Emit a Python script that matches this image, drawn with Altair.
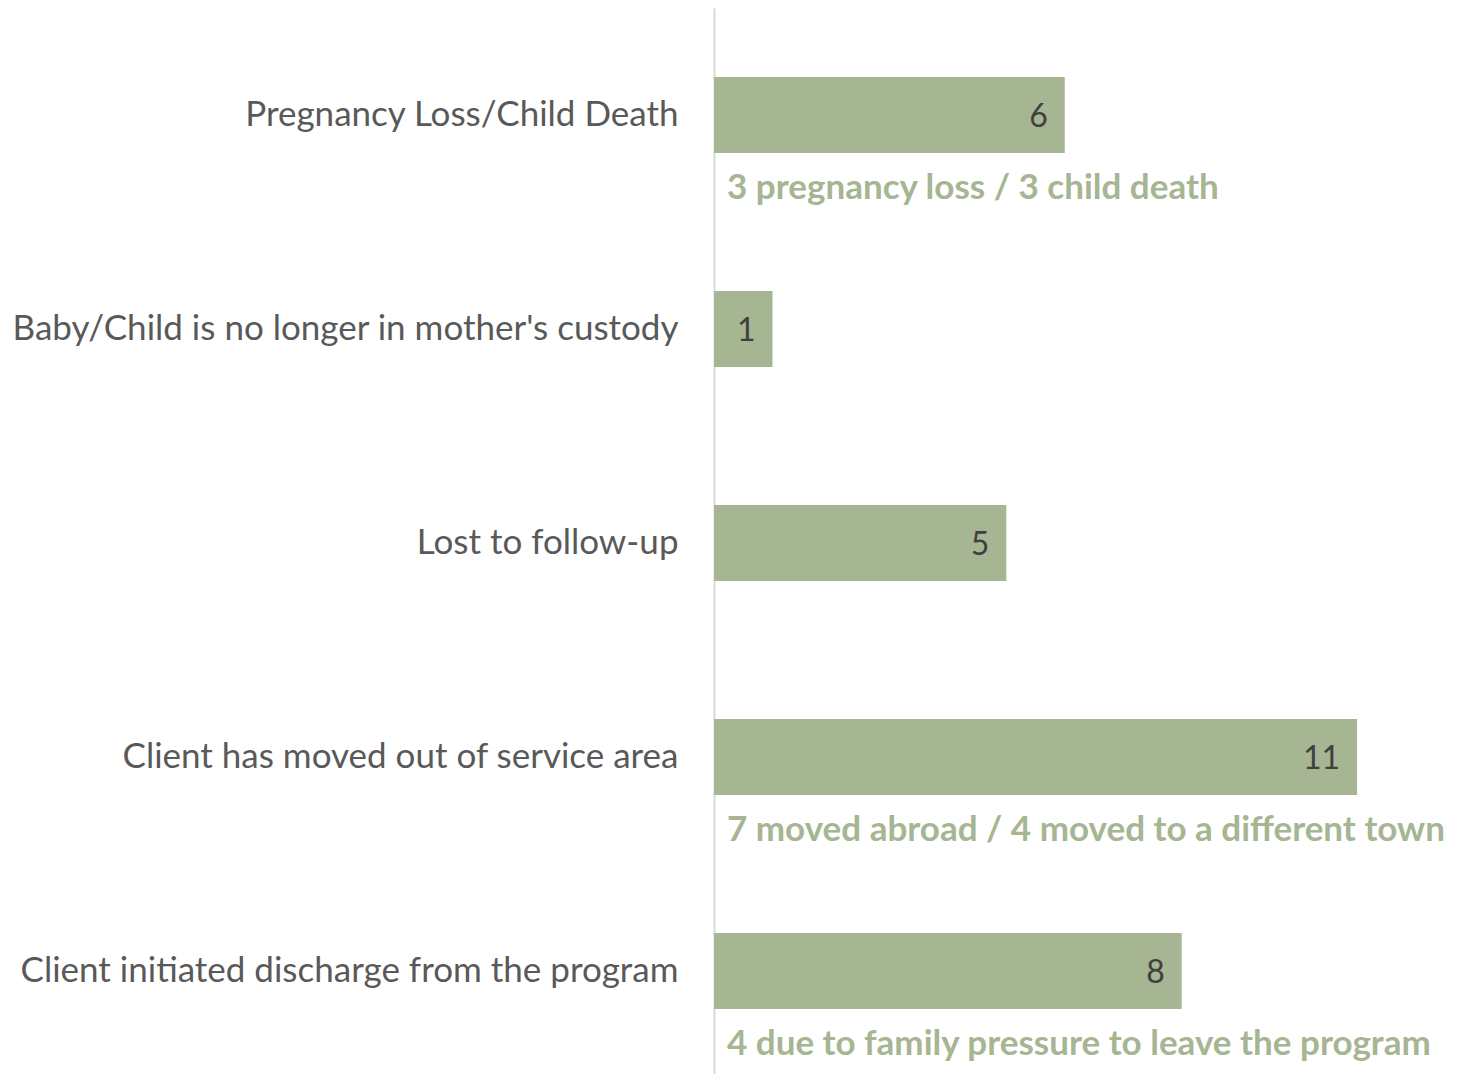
import altair as alt
import pandas as pd

categories = [
    "Pregnancy Loss/Child Death",
    "Baby/Child is no longer in mother's custody",
    "Lost to follow-up",
    "Client has moved out of service area",
    "Client initiated discharge from the program",
]
counts = [6, 1, 5, 11, 8]
notes = [
    "3 pregnancy loss / 3 child death",
    "",
    "",
    "7 moved abroad / 4 moved to a different town",
    "4 due to family pressure to leave the program",
]

df = pd.DataFrame({"category": categories, "count": counts, "note": notes})

GREEN = "#a6b592"

y_enc = alt.Y(
    "category:N",
    sort=categories,
    title=None,
    scale=alt.Scale(paddingInner=0, paddingOuter=0),
    axis=alt.Axis(
        ticks=False,
        domainColor="#d9d9d9",
        domainWidth=2,
        labelFont="Lato",
        labelFontSize=35,
        labelColor="#595959",
        labelPadding=36,
        minExtent=706,
        maxExtent=706,
        labelLimit=700,
    ),
)
x_enc = alt.X(
    "count:Q",
    scale=alt.Scale(domain=[0, 13], nice=False),
    axis=None,
)

base = alt.Chart(df)

bars = base.mark_bar(size=76, color=GREEN).encode(y=y_enc, x=x_enc)

values = base.mark_text(
    align="right", baseline="middle", dx=-17, dy=2,
    font="Lato", fontSize=32, color="#404040",
).encode(y=y_enc, x=x_enc, text="count:Q")

annots = base.mark_text(
    align="left", baseline="middle", dy=73,
    font="Lato", fontSize=35, fontWeight="bold", color=GREEN,
).encode(y=y_enc, x=alt.value(13), text="note:N")

chart = (
    alt.layer(bars, values, annots)
    .properties(width=760, height=1070, padding=0)
    .configure_view(stroke=None)
)

chart.save("out.html", embed_options={"renderer": "svg", "actions": False})
